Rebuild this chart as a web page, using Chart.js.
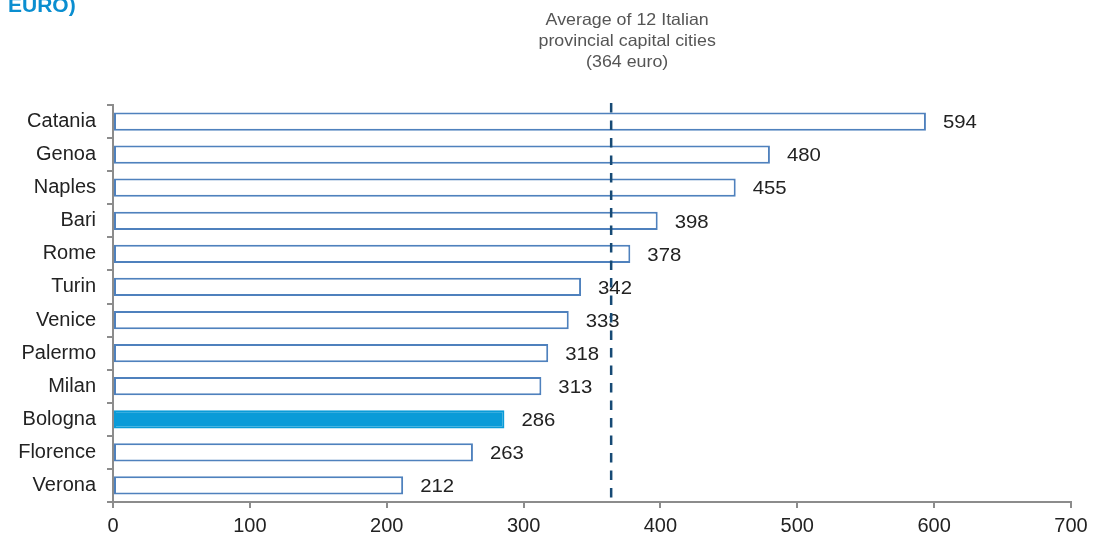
<!DOCTYPE html>
<html>
<head>
<meta charset="utf-8">
<script src="https://cdn.jsdelivr.net/npm/chart.js@4.4.1/dist/chart.umd.min.js"></script>
<style>
  html, body { margin: 0; padding: 0; background: #fff; }
  #wrap { width: 1096px; height: 535px; position: relative; }
</style>
</head>
<body>
<div id="wrap"><canvas id="c" width="1096" height="535"></canvas></div>
<script>
const cities = ['Catania', 'Genoa', 'Naples', 'Bari', 'Rome', 'Turin', 'Venice', 'Palermo', 'Milan', 'Bologna', 'Florence', 'Verona'];
const costs = [594, 480, 455, 398, 378, 342, 333, 318, 313, 286, 263, 212];
const highlightCity = 'Bologna';
const averageValue = 364;
const averageNote = ['Average of 12 Italian', 'provincial capital cities', '(364 euro)'];
const titleText = 'EURO)';
const xTicks = [0, 100, 200, 300, 400, 500, 600, 700];

const FONT = '"Liberation Sans", Arial, sans-serif';
const AXIS = '#8c8c8c';
const EDGE = '#4f81bd';
const FILL = '#0a9bd8';

// draws the text slightly widened, as in the printed layout
function wideText(ctx, text, x, y, sx) {
  ctx.save();
  ctx.translate(x, y);
  ctx.scale(sx, 1);
  ctx.fillText(text, 0, 0);
  ctx.restore();
}

const overlay = {
  id: 'overlay',
  afterDatasetsDraw(chart) {
    const { ctx, scales: { x } } = chart;
    const meta = chart.getDatasetMeta(0);
    ctx.save();
    // value labels at the end of each bar
    ctx.font = '19px ' + FONT;
    ctx.fillStyle = '#222';
    ctx.textAlign = 'left';
    ctx.textBaseline = 'middle';
    meta.data.forEach((bar, i) => {
      wideText(ctx, String(costs[i]), bar.x + 17, bar.y + 1.5, 1.07);
    });
    // dashed average marker
    const ax = x.getPixelForValue(averageValue);
    ctx.strokeStyle = '#174a75';
    ctx.lineWidth = 2.5;
    ctx.setLineDash([9.5, 8]);
    ctx.beginPath();
    ctx.moveTo(ax, chart.chartArea.top - 2);
    ctx.lineTo(ax, chart.chartArea.bottom);
    ctx.stroke();
    ctx.setLineDash([]);
    // note above the marker
    ctx.font = '16.5px ' + FONT;
    ctx.fillStyle = '#555';
    ctx.textAlign = 'center';
    ctx.textBaseline = 'middle';
    averageNote.forEach((line, i) => wideText(ctx, line, ax + 16, 20 + i * 21, 1.08));
    // heading fragment
    ctx.font = 'bold 20px ' + FONT;
    ctx.fillStyle = '#0a8ed0';
    ctx.textAlign = 'left';
    ctx.textBaseline = 'alphabetic';
    wideText(ctx, titleText, 8, 12, 1.05);
    ctx.restore();
  }
};

new Chart(document.getElementById('c'), {
  type: 'bar',
  data: {
    labels: cities,
    datasets: [{
      data: costs,
      backgroundColor: cities.map(c => c === highlightCity ? FILL : '#ffffff'),
      borderColor: cities.map(c => c === highlightCity ? FILL : EDGE),
      borderWidth: 2,
      borderSkipped: false,
      categoryPercentage: 1,
      barPercentage: 0.55
    }]
  },
  options: {
    indexAxis: 'y',
    responsive: false,
    animation: false,
    devicePixelRatio: 1,
    layout: { padding: { left: 0, right: 25, top: 105, bottom: 0 } },
    plugins: { legend: { display: false }, tooltip: { enabled: false } },
    scales: {
      x: {
        min: 0, max: 700,
        afterBuildTicks(s) { s.ticks = xTicks.map(v => ({ value: v })); },
        afterFit(s) { s.height = 33; },
        grid: { drawOnChartArea: false, tickLength: 6, color: AXIS, lineWidth: 2 },
        border: { color: AXIS, width: 2 },
        ticks: { color: '#222', font: { family: FONT, size: 20 }, padding: 6 }
      },
      y: {
        offset: true,
        afterFit(s) { s.width = 113; },
        grid: { drawOnChartArea: false, offset: true, tickLength: 6, color: AXIS, lineWidth: 2 },
        border: { color: AXIS, width: 2 },
        ticks: { color: '#222', font: { family: FONT, size: 20 }, padding: 11 }
      }
    }
  },
  plugins: [overlay]
});
</script>
</body>
</html>
